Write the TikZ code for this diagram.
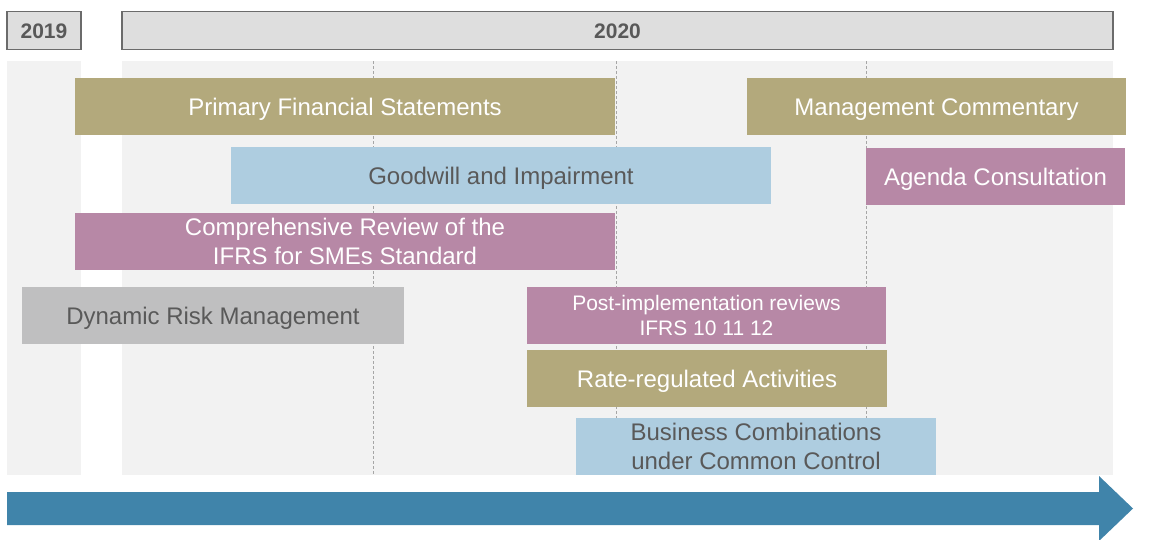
\documentclass[tikz,border=0pt]{standalone}
\usepackage{fontspec}
\setmainfont{Liberation Sans}
\definecolor{tan}{HTML}{B3A97C}
\definecolor{mauve}{HTML}{B788A6}
\definecolor{lblue}{HTML}{AECDE0}
\definecolor{lgray}{HTML}{BFBFC0}
\definecolor{txtgray}{HTML}{595959}
\definecolor{panel}{HTML}{F2F2F2}
\definecolor{hdrfill}{HTML}{DEDEDE}
\definecolor{hdrline}{HTML}{6B6B6B}
\definecolor{arrowblue}{HTML}{4084AA}
\definecolor{dashgray}{HTML}{A6A6A6}
\begin{document}
\begin{tikzpicture}[x=1pt,y=-1pt,
  hdr/.style={draw=hdrline,line width=1.5pt,fill=hdrfill,text=txtgray,text height=15pt,text depth=0pt,font=\fontsize{21}{25}\selectfont\bfseries},
  bar/.style={inner sep=0pt,align=center,font=\fontsize{24}{29}\selectfont},
  one/.style={text height=17.4pt,text depth=0pt},
  tanbar/.style={bar,fill=tan,text=white},
  mauvebar/.style={bar,fill=mauve,text=white},
  bluebar/.style={bar,fill=lblue,text=txtgray},
  graybar/.style={bar,fill=lgray,text=txtgray},
  small/.style={font=\fontsize{21}{25}\selectfont},
  guide/.style={draw=dashgray,line width=0.8pt,dash pattern=on 3pt off 2pt}
]
\useasboundingbox (0,0) rectangle (1154,539);
% background panels
\fill[panel] (7,61) rectangle (81,475);
\fill[panel] (122,61) rectangle (1113,475);
% headers
\node[hdr,minimum width=74pt,minimum height=38pt,inner sep=0pt] (h19) at (44,30.5) {2019};
\node[hdr,minimum width=991pt,minimum height=38pt,inner sep=0pt] (h20) at (617.5,30.5) {2020};
% dashed guides
\coordinate (g1t) at (373,61); \coordinate (g1b) at (373,475);
\coordinate (g2t) at (616,61); \coordinate (g2b) at (616,475);
\coordinate (g3t) at (866,61); \coordinate (g3b) at (866,475);
\draw[guide] (g1t) -- (g1b);
\draw[guide] (g2t) -- (g2b);
\draw[guide] (g3t) -- (g3b);
% bars
\node[tanbar,one,minimum width=540pt,minimum height=57pt] (pfs) at (345,106.5) {Primary Financial Statements};
\node[tanbar,one,minimum width=379pt,minimum height=57pt] (mc) at (936.5,106.5) {Management Commentary};
\node[bluebar,one,minimum width=540pt,minimum height=57pt] (gw) at (501,175.5) {Goodwill and Impairment};
\node[mauvebar,one,minimum width=259pt,minimum height=57pt] (ac) at (995.5,176.5) {Agenda Consultation};
\node[mauvebar,minimum width=540pt,minimum height=57pt] (cr) at (345,241.5) {Comprehensive Review of the\\IFRS for SMEs Standard};
\node[graybar,one,minimum width=382pt,minimum height=57pt] (drm) at (213,315.5) {Dynamic Risk Management};
\node[mauvebar,small,minimum width=359pt,minimum height=57pt] (pir) at (706.5,315.5) {Post-implementation reviews\\IFRS 10 11 12};
\node[tanbar,one,minimum width=360pt,minimum height=57pt] (rra) at (707,378.5) {Rate-regulated Activities};
\node[bluebar,minimum width=360pt,minimum height=57pt] (bcc) at (756,446) {Business Combinations\\under Common Control};
% timeline arrow
\fill[arrowblue] (7,492) -- (1099,492) -- (1099,476) -- (1133,508.5) -- (1099,541) -- (1099,525) -- (7,525) -- cycle;
\end{tikzpicture}
\end{document}
